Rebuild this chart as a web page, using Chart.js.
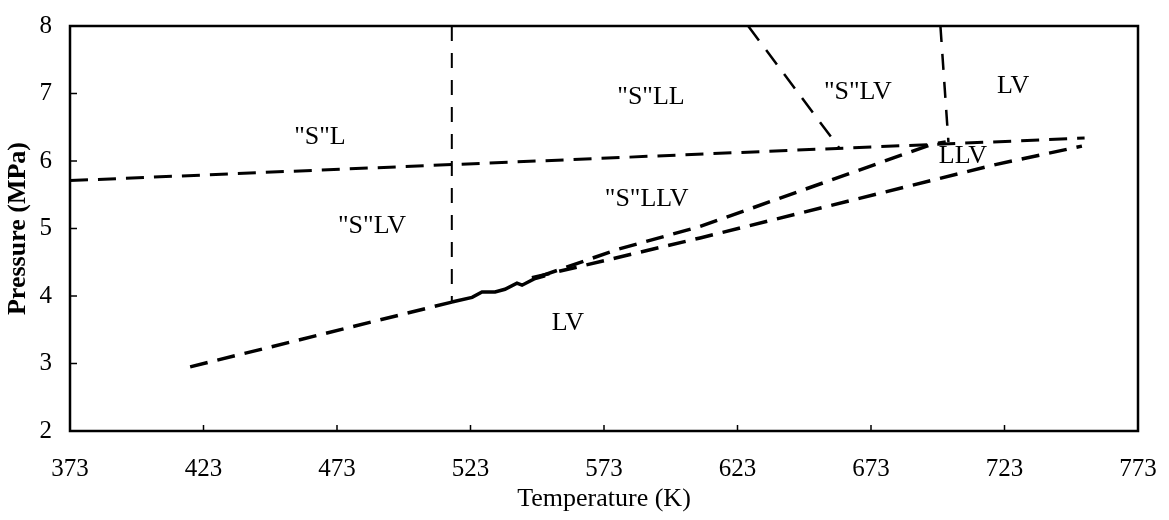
<!DOCTYPE html>
<html>
<head>
<meta charset="utf-8">
<script src="https://cdn.jsdelivr.net/npm/chart.js@4.4.1/dist/chart.umd.min.js"></script>
<style>
  html, body { margin: 0; padding: 0; background: #fff; }
  #wrap { width: 1169px; height: 520px; }
</style>
</head>
<body>
<div id="wrap"><canvas id="chart" width="1169" height="520"></canvas></div>
<script>
// Phase boundaries, temperature (K) and pressure (MPa)
const upperT = [373, 753];
const upperP = [5.71, 6.34];

const lowerLeftT = [418, 516];
const lowerLeftP = [2.95, 3.91];

const wavyT = [516, 523.6, 527.3, 532.2, 535.9, 540.4, 542.3, 547.2, 550.9];
const wavyP = [3.91, 3.98, 4.06, 4.06, 4.10, 4.19, 4.16, 4.26, 4.30];

const middleT = [549, 578, 609, 696, 701];
const middleP = [4.29, 4.69, 5.03, 6.25, 6.28];

const lowerRightT = [546, 609, 720, 752];
const lowerRightP = [4.27, 4.86, 5.95, 6.22];

const leftVertT = [516, 516];
const leftVertP = [8, 3.91];

const rightVertT = [699, 702];
const rightVertP = [8, 6.28];

const diagonalT = [627, 661];
const diagonalP = [8, 6.20];

// Region labels
const regionLabels = ['"S"L', '"S"LV', '"S"LL', '"S"LV', 'LV', '"S"LLV', 'LV', 'LLV'];
const labelT = [466.6, 486.1, 590.6, 668.1, 726.2, 589, 559.5, 707.4];
const labelP = [6.35, 5.03, 6.95, 7.02, 7.11, 5.43, 3.60, 6.07];

// Axis ticks
const xTicks = [373, 423, 473, 523, 573, 623, 673, 723, 773];
const yTicks = [2, 3, 4, 5, 6, 7, 8];

const serif = '"Liberation Serif", "DejaVu Serif", serif';

function toPoints(ts, ps) {
  return ts.map((t, i) => ({ x: t, y: ps[i] }));
}

function lineSet(ts, ps, dash, width) {
  return {
    data: toPoints(ts, ps),
    showLine: true,
    borderColor: '#000',
    borderWidth: width,
    borderDash: dash,
    pointRadius: 0,
    fill: false,
    tension: 0,
  };
}

const frame = {
  id: 'frame',
  afterDatasetsDraw(chart) {
    const { ctx, chartArea: a, scales } = chart;
    ctx.save();
    ctx.strokeStyle = '#000';
    ctx.lineWidth = 2.5;
    ctx.strokeRect(a.left, a.top, a.right - a.left, a.bottom - a.top);

    // small inward ticks
    ctx.lineWidth = 1.5;
    ctx.beginPath();
    xTicks.forEach(v => {
      const px = scales.x.getPixelForValue(v);
      ctx.moveTo(px, a.bottom);
      ctx.lineTo(px, a.bottom - 6);
    });
    yTicks.forEach(v => {
      const py = scales.y.getPixelForValue(v);
      ctx.moveTo(a.left, py);
      ctx.lineTo(a.left + 7, py);
    });
    ctx.stroke();

    // region labels
    ctx.fillStyle = '#000';
    ctx.font = '26px ' + serif;
    ctx.textAlign = 'center';
    ctx.textBaseline = 'middle';
    regionLabels.forEach((txt, i) => {
      ctx.fillText(txt, scales.x.getPixelForValue(labelT[i]), scales.y.getPixelForValue(labelP[i]));
    });
    ctx.restore();
  }
};

const ctx = document.getElementById('chart').getContext('2d');
new Chart(ctx, {
  type: 'scatter',
  data: {
    datasets: [
      lineSet(upperT, upperP, [18, 10], 3),
      lineSet(lowerLeftT, lowerLeftP, [18, 10], 3.5),
      lineSet(wavyT, wavyP, [], 3.5),
      lineSet(middleT, middleP, [18, 10], 3.5),
      lineSet(lowerRightT, lowerRightP, [18, 10], 3.5),
      lineSet(leftVertT, leftVertP, [15, 12], 2),
      lineSet(rightVertT, rightVertP, [16, 12], 2.5),
      lineSet(diagonalT, diagonalP, [18, 12], 2.5),
    ]
  },
  options: {
    responsive: false,
    animation: false,
    layout: { padding: { top: 26, right: 31, left: 0, bottom: 0 } },
    plugins: {
      legend: { display: false },
      tooltip: { enabled: false },
    },
    scales: {
      x: {
        type: 'linear',
        min: 373,
        max: 773,
        afterBuildTicks: s => { s.ticks = xTicks.map(v => ({ value: v })); },
        afterFit: s => { s.height = 89; s.paddingLeft = 0; s.paddingRight = 0; },
        grid: { display: false, drawTicks: false },
        border: { display: false },
        ticks: {
          padding: 23,
          color: '#000',
          font: { family: serif, size: 25 },
        },
        title: {
          display: true,
          text: 'Temperature (K)',
          color: '#000',
          font: { family: serif, size: 26 },
          padding: { top: 0, bottom: 5 },
        },
      },
      y: {
        type: 'linear',
        min: 2,
        max: 8,
        afterBuildTicks: s => { s.ticks = yTicks.map(v => ({ value: v })); },
        afterFit: s => { s.width = 70; s.paddingTop = 0; s.paddingBottom = 0; },
        grid: { display: false, drawTicks: false },
        border: { display: false },
        ticks: {
          padding: 18,
          color: '#000',
          font: { family: serif, size: 25 },
        },
        title: {
          display: true,
          text: 'Pressure (MPa)',
          color: '#000',
          font: { family: serif, size: 26, weight: 'bold' },
          padding: { top: 3, bottom: 0 },
        },
      },
    },
  },
  plugins: [frame],
});
</script>
</body>
</html>
